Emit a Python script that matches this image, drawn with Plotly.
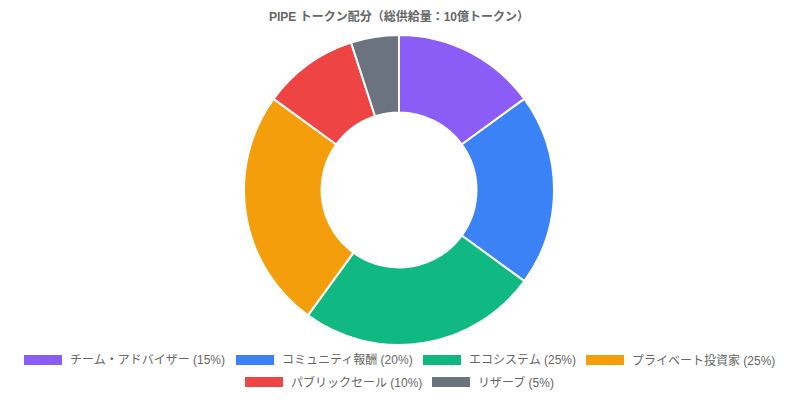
import plotly.graph_objects as go

labels = ["チーム・アドバイザー (15%)", "コミュニティ報酬 (20%)", "エコシステム (25%)",
          "プライベート投資家 (25%)", "パブリックセール (10%)", "リザーブ (5%)"]
values = [15, 20, 25, 25, 10, 5]
colors = ["#8b5cf6", "#3b82f6", "#10b981", "#f59e0b", "#ef4444", "#6b7280"]
title = "PIPE トークン配分（総供給量：10億トークン）"

W, H = 798, 400
FONT = "Liberation Sans, Arial, Noto Sans CJK JP, sans-serif"

fig = go.Figure(go.Pie(
    labels=labels, values=values, hole=0.5, sort=False, direction="clockwise",
    rotation=0, marker=dict(colors=colors, line=dict(color="white", width=2)),
    textinfo="none", hoverinfo="label+value", showlegend=False,
    domain=dict(x=[244 / W, 554 / W], y=[1 - 345 / H, 1 - 35 / H]),
))

# custom legend (Chart.js-style rectangles)
legend_pos = [(24, 360), (236, 360), (423, 360), (586, 360), (245, 382), (432, 382)]
shapes, annots = [], []
for (x0, yc), lab, col in zip(legend_pos, labels, colors):
    shapes.append(dict(type="rect", xref="paper", yref="paper",
                       x0=x0 / W, x1=(x0 + 38) / W, y0=1 - (yc + 5) / H, y1=1 - (yc - 5) / H,
                       fillcolor=col, line=dict(width=0)))
    annots.append(dict(text=lab, xref="paper", yref="paper", x=(x0 + 44) / W, y=1 - yc / H,
                       xanchor="left", yanchor="middle", showarrow=False,
                       font=dict(size=12, color="#666666", family=FONT)))

annots.append(dict(text="<b>" + title + "</b>", xref="paper", yref="paper", x=399 / W, y=1 - 16 / H,
                   xanchor="center", yanchor="middle", showarrow=False,
                   font=dict(size=12, color="#666666", family=FONT)))

fig.update_layout(width=W, height=H, margin=dict(l=0, r=0, t=0, b=0),
                  paper_bgcolor="white", plot_bgcolor="white",
                  shapes=shapes, annotations=annots, font=dict(family=FONT))
fig.write_html("out.html", config={"displayModeBar": False},
               post_script="document.body.style.margin='0';")
